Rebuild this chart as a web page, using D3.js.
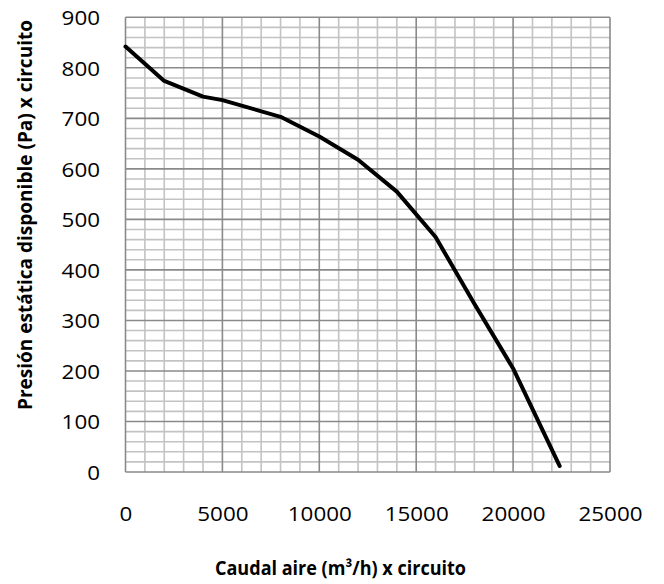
<!DOCTYPE html>
<html><head><meta charset="utf-8">
<script src="https://cdn.jsdelivr.net/npm/d3@7"></script>
<style>
html,body{margin:0;padding:0;background:#fff;}
svg{display:block;}
</style></head>
<body>
<script>
const caudal  = [0, 2000, 4000, 5000, 8000, 10000, 12000, 14000, 16000, 18000, 20000, 22400];
const presion = [842, 774, 743, 736, 703, 664, 618, 555, 465, 333, 205, 12];
const xTicks = [0, 5000, 10000, 15000, 20000, 25000];
const yTicks = [0, 100, 200, 300, 400, 500, 600, 700, 800, 900];
const xTitle = "Caudal aire (m³/h) x circuito";
const yTitle = "Presión estática disponible (Pa) x circuito";

const W = 664, H = 584;
const m = {left: 125.5, right: 54, top: 17.3, bottom: 112};
const svg = d3.select("body").append("svg").attr("width", W).attr("height", H);

const x = d3.scaleLinear().domain([0, 25000]).range([m.left, W - m.right]);
const y = d3.scaleLinear().domain([0, 900]).range([H - m.bottom, m.top]);

const g = svg.append("g");
// minor grid
g.selectAll(".mx").data(d3.range(1000, 25000, 1000).filter(v => v % 5000)).enter().append("line")
  .attr("x1", d => x(d)).attr("x2", d => x(d)).attr("y1", y(0)).attr("y2", y(900))
  .attr("stroke", "#c3c3c3").attr("stroke-width", 1.6);
g.selectAll(".my").data(d3.range(20, 900, 20).filter(v => v % 100)).enter().append("line")
  .attr("x1", x(0)).attr("x2", x(25000)).attr("y1", d => y(d)).attr("y2", d => y(d))
  .attr("stroke", "#c3c3c3").attr("stroke-width", 1.6);
// major grid
g.selectAll(".Mx").data(xTicks).enter().append("line")
  .attr("x1", d => x(d)).attr("x2", d => x(d)).attr("y1", y(0)).attr("y2", y(900))
  .attr("stroke", "#8a8a8a").attr("stroke-width", 1.6);
g.selectAll(".My").data(yTicks).enter().append("line")
  .attr("x1", x(0)).attr("x2", x(25000)).attr("y1", d => y(d)).attr("y2", d => y(d))
  .attr("stroke", "#8a8a8a").attr("stroke-width", 1.6);

// axes
const font = "'Open Sans', 'Liberation Sans', sans-serif";
const xa = svg.append("g").attr("transform", `translate(0,${y(0)})`)
  .call(d3.axisBottom(x).tickValues(xTicks).tickSize(0).tickPadding(49).tickFormat(d3.format("d")));
xa.select(".domain").remove();
xa.selectAll("text").attr("font-family", font).attr("font-size", 20.5).attr("fill", "#000")
  .attr("dy", 0).attr("textLength", function(d){ return String(d).length * 12.8; })
  .attr("lengthAdjust", "spacingAndGlyphs");
const ya = svg.append("g").attr("transform", `translate(${x(0)},0)`)
  .call(d3.axisLeft(y).tickValues(yTicks).tickSize(0).tickPadding(25.5).tickFormat(d3.format("d")));
ya.select(".domain").remove();
ya.selectAll("text").attr("font-family", font).attr("font-size", 20.5).attr("fill", "#000")
  .attr("dy", "0.36em").attr("textLength", function(d){ return String(d).length * 12.8; })
  .attr("lengthAdjust", "spacingAndGlyphs");

// line
const line = d3.line().x((d, i) => x(caudal[i])).y(d => y(d));
svg.append("path").datum(presion).attr("d", line).attr("fill", "none")
  .attr("stroke", "#000").attr("stroke-width", 4).attr("stroke-linejoin", "round").attr("stroke-linecap", "round");

// titles
svg.append("text").attr("x", 215).attr("y", 575).attr("font-family", font)
  .attr("font-weight", "bold").attr("font-size", 19.5).attr("fill", "#000")
  .attr("textLength", 251).attr("lengthAdjust", "spacingAndGlyphs")
  .text(xTitle);

svg.append("text").attr("transform", "translate(32,410) rotate(-90)")
  .attr("font-family", font).attr("font-weight", "bold").attr("font-size", 19.5).attr("fill", "#000")
  .attr("textLength", 390).attr("lengthAdjust", "spacingAndGlyphs")
  .text(yTitle);
</script>
</body></html>
